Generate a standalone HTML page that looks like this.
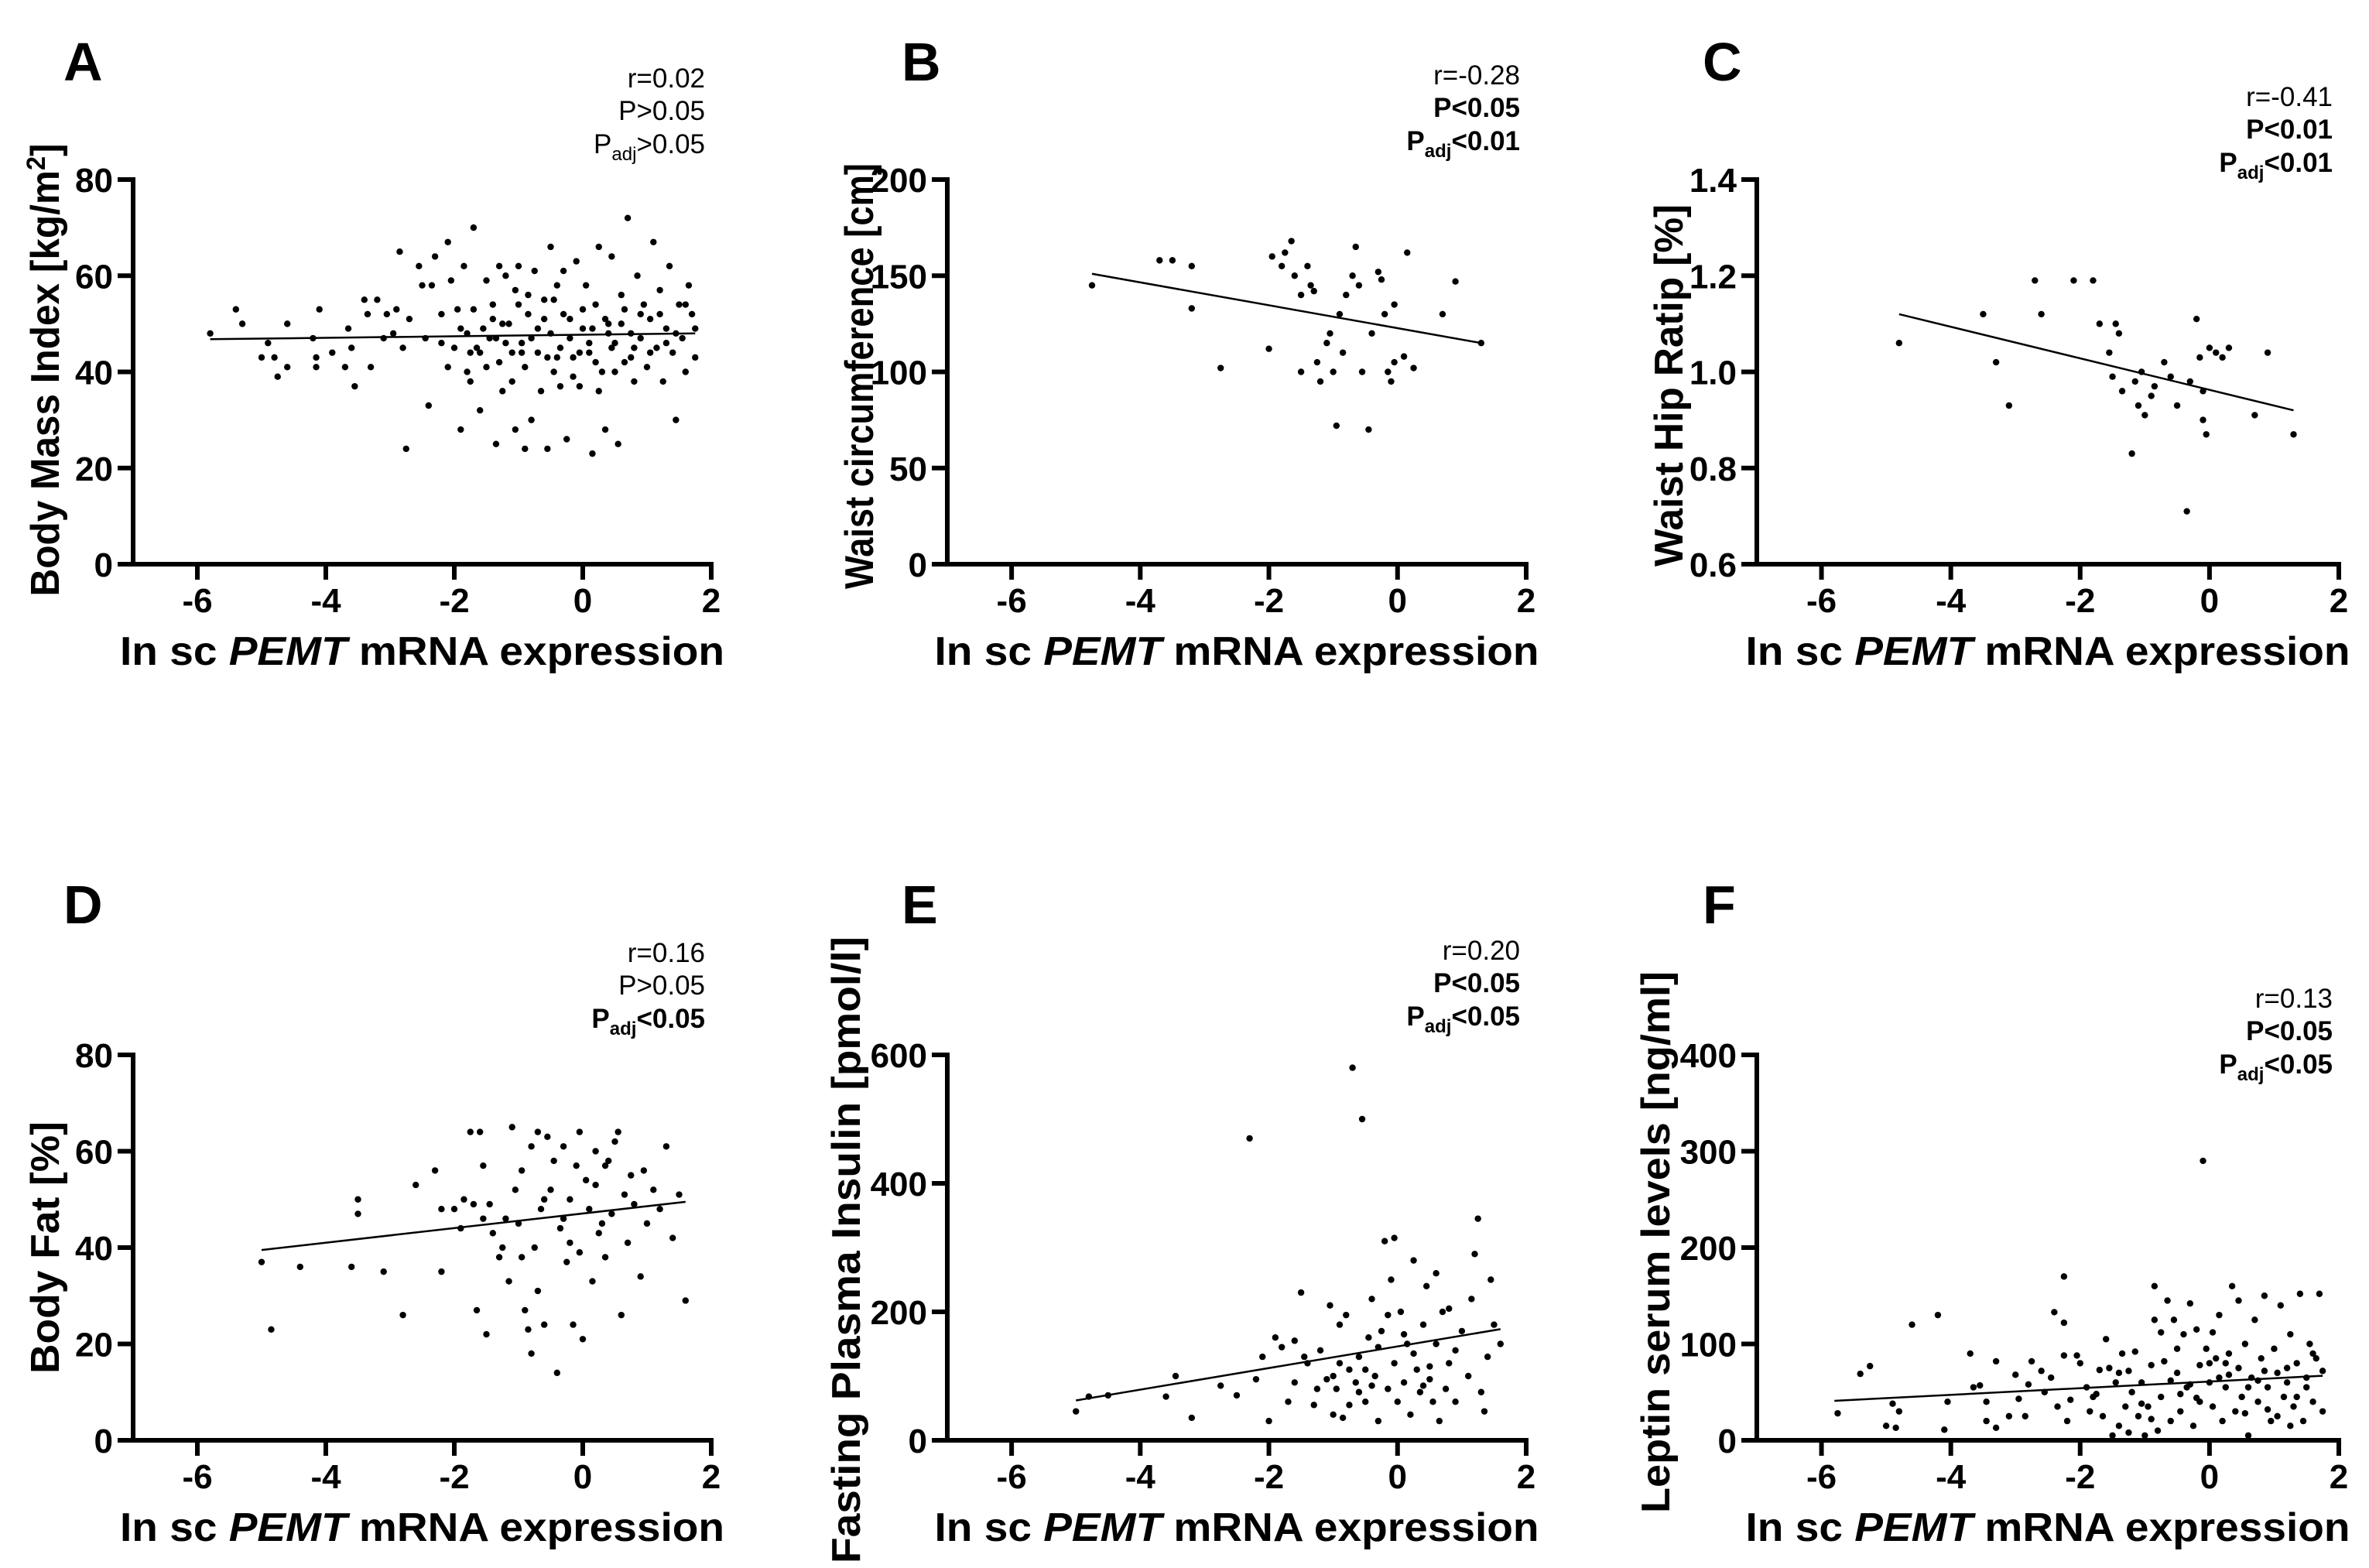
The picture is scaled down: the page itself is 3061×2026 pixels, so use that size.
<!DOCTYPE html>
<html><head><meta charset="utf-8"><style>
html,body{margin:0;padding:0;background:#fff;}
svg{display:block;font-family:"Liberation Sans",Arial,sans-serif;}
</style></head><body>
<svg id="fig" width="3061" height="2026" viewBox="0 0 3061 2026" xmlns="http://www.w3.org/2000/svg"></svg>
<script>
// ---- Data ----
const xTicks = [-6,-4,-2,0,2];
const panelLetters = ["A","B","C","D","E","F"];
const yTitles = ["Body Mass Index [kg/m\u00B2]","Waist circumference [cm]","Waist Hip Ratip [%]","Body Fat [%]","Fasting Plasma Insulin [pmol/l]","Leptin serum levels [ng/ml]"];
const yMin = [0,0,0.6,0,0,0];
const yMax = [80,200,1.4,80,600,400];
const yStep = [20,50,0.2,20,200,100];
const yDecimals = [0,0,1,0,0,0];
const rValues = ["r=0.02","r=-0.28","r=-0.41","r=0.16","r=0.20","r=0.13"];
const pValues = ["P>0.05","P<0.05","P<0.01","P>0.05","P<0.05","P<0.05"];
const pBold = [false,true,true,false,true,true];
const padjValues = [">0.05","<0.01","<0.01","<0.05","<0.05","<0.05"];
const padjBold = [false,true,true,true,true,true];
const fitX0 = [-5.8,-4.75,-4.8,-5.0,-5.0,-5.8];
const fitY0 = [46.8,151,1.12,39.5,62,41];
const fitX1 = [1.75,1.3,1.3,1.6,1.6,1.75];
const fitY1 = [48,115,0.92,49.5,173,67];

const pointsA = [[-5.8,48],[-5.4,53],[-5.3,50],[-5.0,43],[-4.9,46],[-4.8,43],[-4.75,39],[-4.6,41],[-4.6,50],[-4.2,47],[-4.15,43],[-4.15,41],[-4.1,53],[-3.9,44],[-3.7,41],[-3.65,49],[-3.6,45],[-3.55,37],[-3.4,55],[-3.35,52],[-3.3,41],[-3.2,55],[-3.1,47],[-3.05,52],[-2.95,48],[-2.9,53],[-2.85,65],[-2.8,45],[-2.75,24],[-2.7,51],[-2.55,62],[-2.5,58],[-2.45,47],[-2.4,33],[-2.35,58],[-2.3,64],[-2.2,46],[-2.1,67],[-2.05,59],[-2.0,45],[-1.95,53],[-1.9,28],[-1.85,62],[-1.8,40],[-1.75,38],[-1.7,70],[-1.7,53],[-1.6,32],[-1.55,49],[-1.5,59],[-1.45,47],[-1.4,54],[-1.35,25],[-1.3,62],[-1.3,42],[-1.25,36],[-1.2,60],[-1.15,50],[-1.1,44],[-1.05,28],[-1.05,57],[-1.0,62],[-0.95,46],[-0.9,41],[-0.9,24],[-0.85,52],[-0.8,30],[-0.75,61],[-0.7,44],[-0.65,36],[-0.6,55],[-0.55,24],[-0.5,48],[-0.5,66],[-0.45,40],[-0.4,58],[-0.35,45],[-0.3,61],[-0.25,26],[-0.2,51],[-0.15,43],[-0.1,63],[-0.05,37],[0.0,49],[0.05,58],[0.1,44],[0.15,23],[0.2,54],[0.25,66],[0.3,40],[0.35,28],[0.4,50],[0.45,64],[0.5,46],[0.55,25],[0.6,56],[0.65,42],[0.7,72],[0.75,48],[0.8,38],[0.85,60],[0.9,47],[0.95,54],[1.0,41],[1.05,51],[1.1,67],[1.15,45],[1.2,57],[1.25,38],[1.3,49],[1.35,62],[1.4,44],[1.45,30],[1.5,54],[1.55,47],[1.6,40],[1.65,58],[1.7,52],[1.75,43],[1.75,49],[-1.8,48],[-1.6,44],[-1.4,51],[-1.2,46],[-1.0,54],[-0.8,47],[-0.6,51],[-0.4,43],[-0.2,47],[0.0,53],[0.2,42],[0.4,48],[0.6,50],[0.8,45],[-1.5,41],[-1.1,38],[-0.7,49],[-0.3,52],[0.1,46],[0.5,40],[0.9,52],[1.3,46],[-2.1,41],[-2.2,52],[-0.95,44],[-0.45,55],[0.25,36],[1.2,52],[-1.65,45],[-0.15,39],[0.65,53],[1.45,48],[-0.55,43],[-1.25,50],[-0.05,44],[0.35,51],[-0.85,56],[-1.9,49],[-1.75,44],[1.05,44],[0.15,49],[-0.35,37],[0.45,45],[-1.35,47],[1.6,54],[0.75,43]];
const pointsB = [[-4.75,145],[-3.7,158],[-3.5,158],[-3.2,155],[-3.2,133],[-2.75,102],[-2.0,112],[-1.95,160],[-1.8,155],[-1.75,162],[-1.65,168],[-1.6,150],[-1.5,140],[-1.5,100],[-1.4,155],[-1.35,145],[-1.3,142],[-1.25,105],[-1.2,95],[-1.1,115],[-1.05,120],[-1.0,100],[-0.95,72],[-0.9,130],[-0.85,110],[-0.8,140],[-0.7,150],[-0.65,165],[-0.6,145],[-0.55,100],[-0.45,70],[-0.4,120],[-0.3,152],[-0.25,148],[-0.2,130],[-0.15,100],[-0.1,95],[-0.05,105],[-0.05,135],[0.1,108],[0.15,162],[0.25,102],[0.7,130],[0.9,147],[1.3,115]];
const pointsC = [[-4.8,1.06],[-3.5,1.12],[-3.3,1.02],[-3.1,0.93],[-2.7,1.19],[-2.6,1.12],[-2.1,1.19],[-1.8,1.19],[-1.7,1.1],[-1.55,1.04],[-1.5,0.99],[-1.45,1.1],[-1.4,1.08],[-1.35,0.96],[-1.2,0.83],[-1.15,0.98],[-1.1,0.93],[-1.05,1.0],[-1.0,0.91],[-0.9,0.95],[-0.85,0.97],[-0.7,1.02],[-0.6,0.99],[-0.5,0.93],[-0.35,0.71],[-0.3,0.98],[-0.2,1.11],[-0.15,1.03],[-0.1,0.9],[-0.05,0.87],[-0.1,0.96],[0.0,1.05],[0.1,1.04],[0.2,1.03],[0.3,1.05],[0.7,0.91],[0.9,1.04],[1.3,0.87]];
const pointsD = [[-5.0,37],[-4.85,23],[-4.4,36],[-3.6,36],[-3.5,50],[-3.5,47],[-3.1,35],[-2.8,26],[-2.6,53],[-2.3,56],[-2.2,35],[-2.2,48],[-2.0,48],[-1.9,44],[-1.85,50],[-1.75,64],[-1.7,49],[-1.65,27],[-1.6,64],[-1.55,57],[-1.5,22],[-1.45,49],[-1.3,38],[-1.25,40],[-1.2,46],[-1.1,65],[-1.05,52],[-1.0,45],[-0.95,56],[-0.9,27],[-0.85,23],[-0.8,61],[-0.8,18],[-0.75,40],[-0.7,64],[-0.65,48],[-0.6,24],[-0.55,63],[-0.5,52],[-0.45,58],[-0.4,14],[-0.35,44],[-0.3,61],[-0.25,37],[-0.2,50],[-0.15,24],[-0.1,57],[-0.05,64],[0.0,21],[0.05,54],[0.1,48],[0.15,33],[0.2,60],[0.25,43],[0.3,45],[0.35,38],[0.4,58],[0.45,47],[0.5,62],[0.55,64],[0.6,26],[0.65,51],[0.7,41],[0.75,55],[0.8,49],[0.9,34],[1.0,45],[1.1,52],[1.2,48],[1.3,61],[1.4,42],[1.5,51],[1.6,29],[-1.4,43],[-0.95,38],[-0.6,50],[-0.2,41],[0.2,53],[-1.15,33],[-0.7,31],[0.35,57],[-0.3,46],[-1.55,46],[0.95,56],[-0.05,39]];
const pointsE = [[-5.0,45],[-4.8,68],[-4.5,70],[-3.6,68],[-3.45,100],[-3.2,35],[-2.75,85],[-2.3,470],[-2.2,95],[-2.1,130],[-2.0,30],[-1.9,160],[-1.8,145],[-1.7,60],[-1.6,90],[-1.5,230],[-1.4,120],[-1.3,55],[-1.2,140],[-1.1,95],[-1.05,210],[-1.0,40],[-0.95,80],[-0.9,180],[-0.85,35],[-0.8,195],[-0.75,110],[-0.7,580],[-0.65,90],[-0.6,130],[-0.55,500],[-0.5,60],[-0.45,160],[-0.4,220],[-0.35,100],[-0.3,30],[-0.25,170],[-0.2,310],[-0.15,80],[-0.1,250],[-0.05,120],[0.0,60],[0.05,200],[0.1,90],[0.15,150],[0.2,40],[0.25,280],[0.3,110],[0.35,75],[0.4,180],[0.45,240],[0.5,95],[0.55,60],[0.6,150],[0.65,30],[0.7,200],[0.75,80],[0.8,120],[0.9,60],[1.0,170],[1.1,100],[1.2,290],[1.25,345],[1.3,75],[1.35,45],[1.4,130],[1.5,180],[1.6,150],[-1.25,80],[-0.9,120],[-0.6,75],[-0.3,145],[0.1,165],[0.4,85],[0.8,205],[-1.6,155],[-0.15,195],[1.15,220],[-0.5,110],[0.6,260],[-2.5,70],[-1.0,100],[0.25,135],[-0.75,55],[1.45,250],[-0.05,315],[0.9,140],[-1.45,130],[0.5,115],[-0.4,85]];
const pointsF = [[-5.75,28],[-5.4,69],[-5.25,77],[-5.0,15],[-4.9,38],[-4.85,13],[-4.8,30],[-4.6,120],[-4.2,130],[-4.1,11],[-4.05,40],[-3.7,90],[-3.65,55],[-3.55,57],[-3.45,40],[-3.45,20],[-3.3,82],[-3.3,13],[-3.1,25],[-3.0,68],[-2.95,43],[-2.85,25],[-2.8,58],[-2.75,82],[-2.6,72],[-2.55,50],[-2.45,65],[-2.4,133],[-2.35,35],[-2.25,170],[-2.25,122],[-2.25,88],[-2.2,20],[-2.15,42],[-2.05,88],[-2.0,80],[-1.9,55],[-1.85,30],[-1.8,45],[-1.7,73],[-1.65,25],[-1.6,105],[-1.55,75],[-1.5,5],[-1.45,60],[-1.4,15],[-1.35,90],[-1.3,35],[-1.25,72],[-1.2,50],[-1.15,92],[-1.1,25],[-1.05,60],[-1.0,5],[-0.95,35],[-0.9,78],[-0.85,160],[-0.8,10],[-0.75,45],[-0.7,82],[-0.65,145],[-0.6,20],[-0.55,125],[-0.5,70],[-0.45,30],[-0.4,110],[-0.35,55],[-0.3,142],[-0.25,15],[-0.2,115],[-0.15,40],[-0.1,290],[-0.05,95],[0.0,60],[0.05,35],[0.1,85],[0.15,130],[0.2,20],[0.25,55],[0.3,90],[0.35,160],[0.4,30],[0.45,75],[0.5,45],[0.55,100],[0.6,5],[0.65,65],[0.7,125],[0.75,40],[0.8,85],[0.85,150],[0.9,55],[0.95,20],[1.0,95],[1.05,70],[1.1,140],[1.15,45],[1.2,60],[1.25,110],[1.3,35],[1.35,80],[1.4,152],[1.45,20],[1.5,55],[1.55,100],[1.6,40],[1.65,85],[1.7,152],[1.75,30],[1.75,72],[-1.25,8],[-0.9,22],[-0.6,62],[-0.3,58],[0.0,80],[0.3,68],[0.6,55],[0.9,32],[1.2,75],[1.5,65],[-0.75,112],[-0.15,78],[0.45,145],[1.05,25],[-1.05,38],[-0.45,48],[0.15,65],[0.75,62],[1.35,45],[-1.75,48],[-0.85,125],[0.25,80],[1.6,90],[-0.5,95],[0.55,28],[-0.2,44],[0.85,72],[1.25,15],[-1.4,70],[0.05,112]];
const allPoints = [pointsA,pointsB,pointsC,pointsD,pointsE,pointsF];

// ---- Layout ----
const colAxisX = [172,1224,2270];
const colEndX = [919,1972,3022];
const rowTop = [232,1363];
const rowZero = [729,1861];
const statsTop = [[113,109,137],[1243,1240,1302]];
const letterX = [82,1165,2200];
const letterY = [104,1193];
const yTitleLen = [585,550,468,326,810,700];
const yTitleCy = [478,486,498,1612,1615,1605];
const yTitleOff = [96,96,96,96,113,113];
const NS = "http://www.w3.org/2000/svg";
const svg = document.getElementById("fig");
function el(tag, attrs, parent){const e=document.createElementNS(NS,tag);for(const k in attrs)e.setAttribute(k,attrs[k]);(parent||svg).appendChild(e);return e;}

for(let p=0;p<6;p++){
  const col=p%3,row=Math.floor(p/3);
  const ax=colAxisX[col],x2=colEndX[col],top=rowTop[row],zero=rowZero[row];
  const g=el("g",{});
  
  
  const xs=v=>ax+(v+7)/9*(x2-ax);
  const ys=v=>zero-(v-yMin[p])/(yMax[p]-yMin[p])*(zero-top);

  const letter=el("text",{x:letterX[col],y:letterY[row],"font-size":70,"font-weight":"bold"},g);
  letter.textContent=panelLetters[p];
  
  

  const yAxis=el("line",{x1:ax,y1:top-3,x2:ax,y2:zero+3,stroke:"#000","stroke-width":6},g);
  
  
  const xAxis=el("line",{x1:ax-20,y1:zero,x2:x2+3,y2:zero,stroke:"#000","stroke-width":6},g);
  
  

  for(let v=yMin[p];v<=yMax[p]+1e-9;v+=yStep[p]){
    const y=ys(v);
    el("line",{x1:ax-20,y1:y,x2:ax,y2:y,stroke:"#000","stroke-width":6},g);
    const t=el("text",{x:ax-26,y:y+16,"font-size":44,"font-weight":"bold","text-anchor":"end"},g);
    t.textContent=v.toFixed(yDecimals[p]);
    
    
  }
  for(const v of xTicks){
    const x=xs(v);
    el("line",{x1:x,y1:zero,x2:x,y2:zero+20,stroke:"#000","stroke-width":6},g);
    const t=el("text",{x:x,y:zero+62,"font-size":44,"font-weight":"bold","text-anchor":"middle"},g);
    t.textContent=v;
    
    
  }
  const xt=el("text",{x:(ax+x2)/2,y:zero+130,"font-size":52,"font-weight":"bold","text-anchor":"middle",textLength:781,lengthAdjust:"spacingAndGlyphs"},g);
  xt.innerHTML='In sc <tspan font-style="italic">PEMT</tspan> mRNA expression';
  
  
  const yt=el("text",{x:0,y:0,"font-size":52,"font-weight":"bold","text-anchor":"middle",textLength:yTitleLen[p],lengthAdjust:"spacingAndGlyphs",transform:`translate(${ax-yTitleOff[p]},${yTitleCy[p]}) rotate(-90)`},g);
  if(p===0){yt.innerHTML='Body Mass Index [kg/m<tspan font-size="34" dy="-18">2</tspan><tspan dy="18">]</tspan>';}
  else yt.textContent=yTitles[p];
  
  

  const sx=x2-8, sy=statsTop[row][col];
  const s1=el("text",{x:sx,y:sy,"font-size":35,"text-anchor":"end"},g);
  s1.textContent=rValues[p];
  
  
  const s2=el("text",{x:sx,y:sy+42,"font-size":35,"text-anchor":"end","font-weight":pBold[p]?"bold":"normal"},g);
  s2.textContent=pValues[p];
  
  
  const s3=el("text",{x:sx,y:sy+85,"font-size":35,"text-anchor":"end","font-weight":padjBold[p]?"bold":"normal"},g);
  s3.innerHTML='P<tspan font-size="24" dy="9">adj</tspan><tspan dy="-9">'+padjValues[p].replace('<','&lt;').replace('>','&gt;')+'</tspan>';
  
  

  for(const pt of allPoints[p]){
    const c=el("circle",{cx:xs(pt[0]),cy:ys(pt[1]),r:4.2,fill:"#000"},g);
    
    
  }
  const fl=el("line",{x1:xs(fitX0[p]),y1:ys(fitY0[p]),x2:xs(fitX1[p]),y2:ys(fitY1[p]),stroke:"#000","stroke-width":2.5},g);
  
  
}
</script>
</body></html>
